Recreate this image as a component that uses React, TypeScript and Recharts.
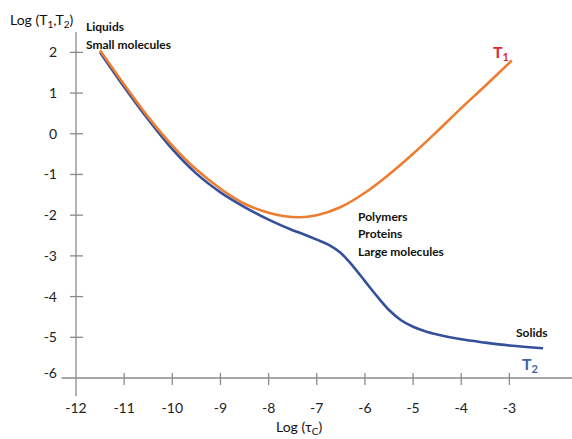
import React from 'react'
import { LineChart, Line, XAxis, YAxis, ReferenceLine } from 'recharts'

// relaxation times vs correlation time (log-log)
const T1_X = [-11.5, -11.0, -10.5, -10.0, -9.5, -9.0, -8.5, -8.0, -7.7, -7.35, -7.0, -6.5, -6.0, -5.5, -5.0, -4.5, -4.0, -3.5, -2.95]
const T1_Y = [2.05, 1.21, 0.41, -0.29, -0.88, -1.35, -1.72, -1.94, -2.02, -2.05, -2.0, -1.8, -1.45, -1.0, -0.49, 0.06, 0.63, 1.18, 1.8]

const T2_X = [-11.5, -11.0, -10.5, -10.0, -9.5, -9.0, -8.5, -8.0, -7.5, -7.25, -7.0, -6.75, -6.5, -6.25, -6.0, -5.75, -5.5, -5.25, -5.0, -4.75, -4.5, -4.0, -3.5, -3.0, -2.3]
const T2_Y = [2.0, 1.15, 0.35, -0.38, -0.98, -1.44, -1.8, -2.11, -2.37, -2.48, -2.6, -2.73, -2.93, -3.25, -3.62, -3.99, -4.33, -4.58, -4.74, -4.85, -4.93, -5.05, -5.13, -5.2, -5.27]

const X_TICKS = [-12, -11, -10, -9, -8, -7, -6, -5, -4, -3]
const Y_TICKS = [-6, -5, -4, -3, -2, -1, 0, 1, 2]

const t1Data = T1_X.map((x, i) => ({ x, y: T1_Y[i] }))
const t2Data = T2_X.map((x, i) => ({ x, y: T2_Y[i] }))

const W = 572
const H = 439
const TOP = 32
const XAXIS_H = 61
const YAXIS_W = 76
const AXIS_Y = H - XAXIS_H

const FONT = 'Lato, "Open Sans", sans-serif'
const AXIS_COLOR = '#8a8a8a'
const ORANGE = '#ED7D31'
const BLUE = '#34509B'

const XTick = (props: any) => {
  const { x, payload } = props
  return (
    <g>
      {payload.value !== -12 && (
        <line x1={x} x2={x} y1={AXIS_Y - 5} y2={AXIS_Y + 7} stroke={AXIS_COLOR} strokeWidth={1.3} />
      )}
      <text x={x} y={AXIS_Y + 35} textAnchor="middle" fontSize={14} fill="#222" fontFamily={FONT}>
        {payload.value}
      </text>
    </g>
  )
}

const YTick = (props: any) => {
  const { y, payload } = props
  const bottom = payload.value === -6
  return (
    <g>
      {!bottom && (
        <line x1={YAXIS_W - 6} x2={YAXIS_W + 7} y1={y} y2={y} stroke={AXIS_COLOR} strokeWidth={1.3} />
      )}
      <text x={57} y={y + (bottom ? 0 : 5)} textAnchor="end" fontSize={14} fill="#222" fontFamily={FONT}>
        {payload.value}
      </text>
    </g>
  )
}

const note: React.CSSProperties = {
  position: 'absolute',
  fontFamily: FONT,
  fontWeight: 700,
  fontSize: 12,
  lineHeight: '14px',
  color: '#111',
  whiteSpace: 'nowrap',
}

// subscript that doesn't push the line box around
const Sub = ({ children, size = 10 }: { children: React.ReactNode; size?: number }) => (
  <span style={{ fontSize: size, position: 'relative', top: 3 }}>{children}</span>
)

export default function App() {
  return (
    <div style={{ position: 'absolute', left: 0, top: 0, width: W, height: H, background: '#fff', overflow: 'hidden' }}>
      <LineChart width={W} height={H} margin={{ top: TOP, right: 0, left: 0, bottom: 0 }}>
        <XAxis
          type="number"
          dataKey="x"
          domain={[-12, -1.7]}
          ticks={X_TICKS}
          height={XAXIS_H}
          axisLine={false}
          tickLine={false}
          tick={<XTick />}
          allowDataOverflow
        />
        <YAxis
          type="number"
          domain={[-6, 2.5]}
          ticks={Y_TICKS}
          width={YAXIS_W}
          axisLine={false}
          tickLine={false}
          tick={<YTick />}
          allowDataOverflow
        />
        <ReferenceLine
          segment={[{ x: -12, y: -6.45 }, { x: -12, y: 2.5 }]}
          stroke={AXIS_COLOR}
          strokeWidth={1.3}
          ifOverflow="visible"
        />
        <ReferenceLine
          segment={[{ x: -12.3, y: -6 }, { x: -1.7, y: -6 }]}
          stroke={AXIS_COLOR}
          strokeWidth={1.3}
          ifOverflow="visible"
        />
        <Line data={t2Data} dataKey="y" type="monotone" stroke={BLUE} strokeWidth={2.6} dot={false} isAnimationActive={false} />
        <Line data={t1Data} dataKey="y" type="monotone" stroke={ORANGE} strokeWidth={2.6} dot={false} isAnimationActive={false} />
      </LineChart>

      <div style={{ ...note, fontWeight: 400, fontSize: 14, left: 10, top: 12, lineHeight: '16px' }}>
        Log (T<Sub>1</Sub>,T<Sub>2</Sub>)
      </div>
      <div style={{ ...note, left: 86, top: 20 }}>Liquids</div>
      <div style={{ ...note, left: 86, top: 38 }}>Small molecules</div>

      <div style={{ ...note, left: 358, top: 210 }}>Polymers</div>
      <div style={{ ...note, left: 358, top: 227 }}>Proteins</div>
      <div style={{ ...note, left: 358, top: 245 }}>Large molecules</div>

      <div style={{ ...note, left: 516, top: 326 }}>Solids</div>

      <div style={{ ...note, left: 493, top: 43, fontSize: 16, lineHeight: '18px', color: '#E3262B' }}>
        T<Sub size={11}>1</Sub>
      </div>
      <div style={{ ...note, left: 522, top: 355, fontSize: 16, lineHeight: '18px', color: '#3B64AD' }}>
        T<Sub size={11}>2</Sub>
      </div>

      <div style={{ ...note, fontWeight: 400, fontSize: 14, left: 276, top: 419, lineHeight: '16px' }}>
        Log (τ<Sub>C</Sub>)
      </div>
    </div>
  )
}
